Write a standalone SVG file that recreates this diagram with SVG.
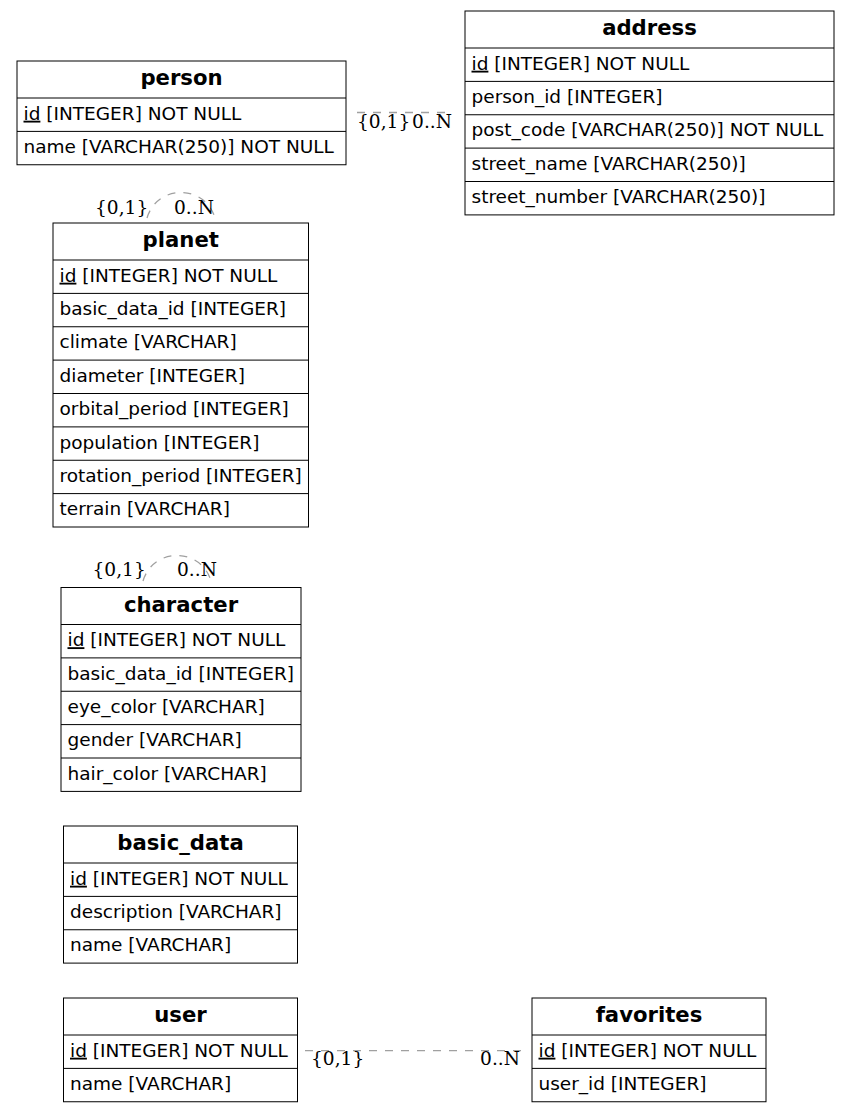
<svg xmlns="http://www.w3.org/2000/svg" width="849" height="1113" viewBox="0 0 849 1113">
<style>
.box{fill:#fff;stroke:#000;stroke-width:1}
.div{stroke:#000;stroke-width:1}
.hd{font-family:"DejaVu Sans",sans-serif;font-weight:bold;font-size:21.2px;text-anchor:middle;fill:#000}
.row{font-family:"DejaVu Sans",sans-serif;font-size:18.5px;fill:#000}
.u{text-decoration:underline}
.edge{fill:none;stroke:#a0a0a0;stroke-width:1.3;stroke-dasharray:8,8}
.lbl{font-family:"DejaVu Serif",serif;font-size:18.6px;fill:#000}
</style>
<rect width="849" height="1113" fill="#fff"/>
<g id="edges">
<line class="edge" x1="357" y1="112.5" x2="452" y2="112.5"/>
<text class="lbl" x="357" y="128">{0,1}</text>
<text class="lbl" x="452" y="128" text-anchor="end">0..N</text>
<path class="edge" d="M147,218 C157,184 205,184 215,218"/>
<text class="lbl" x="95" y="214">{0,1}</text>
<text class="lbl" x="174" y="214">0..N</text>
<path class="edge" d="M143,581 C153,547 201,547 211,581"/>
<text class="lbl" x="92.5" y="576">{0,1}</text>
<text class="lbl" x="177" y="576">0..N</text>
<line class="edge" x1="305" y1="1050.7" x2="521" y2="1050.7"/>
<text class="lbl" x="311" y="1065">{0,1}</text>
<text class="lbl" x="520" y="1065" text-anchor="end">0..N</text>
</g>
<g id="person">
<rect class="box" x="17" y="61" width="329" height="103.75"/>
<line class="div" x1="17" y1="98" x2="346" y2="98"/>
<line class="div" x1="17" y1="131.4" x2="346" y2="131.4"/>
<text class="hd" x="181.5" y="85">person</text>
<text class="row" x="23.5" y="119.7"><tspan class="u">id</tspan> [INTEGER] NOT NULL</text>
<text class="row" x="23.5" y="153.1">name [VARCHAR(250)] NOT NULL</text>
</g>
<g id="address">
<rect class="box" x="465" y="11" width="369" height="203.9"/>
<line class="div" x1="465" y1="48" x2="834" y2="48"/>
<line class="div" x1="465" y1="81.4" x2="834" y2="81.4"/>
<line class="div" x1="465" y1="114.75" x2="834" y2="114.75"/>
<line class="div" x1="465" y1="148.1" x2="834" y2="148.1"/>
<line class="div" x1="465" y1="181.5" x2="834" y2="181.5"/>
<text class="hd" x="649.5" y="35">address</text>
<text class="row" x="471.5" y="69.7"><tspan class="u">id</tspan> [INTEGER] NOT NULL</text>
<text class="row" x="471.5" y="103.1">person_id [INTEGER]</text>
<text class="row" x="471.5" y="136.45">post_code [VARCHAR(250)] NOT NULL</text>
<text class="row" x="471.5" y="169.8">street_name [VARCHAR(250)]</text>
<text class="row" x="471.5" y="203.2">street_number [VARCHAR(250)]</text>
</g>
<g id="planet">
<rect class="box" x="53" y="223" width="255.5" height="304"/>
<line class="div" x1="53" y1="260" x2="308.5" y2="260"/>
<line class="div" x1="53" y1="293.4" x2="308.5" y2="293.4"/>
<line class="div" x1="53" y1="326.75" x2="308.5" y2="326.75"/>
<line class="div" x1="53" y1="360.1" x2="308.5" y2="360.1"/>
<line class="div" x1="53" y1="393.5" x2="308.5" y2="393.5"/>
<line class="div" x1="53" y1="426.9" x2="308.5" y2="426.9"/>
<line class="div" x1="53" y1="460.25" x2="308.5" y2="460.25"/>
<line class="div" x1="53" y1="493.6" x2="308.5" y2="493.6"/>
<text class="hd" x="180.75" y="247">planet</text>
<text class="row" x="59.5" y="281.7"><tspan class="u">id</tspan> [INTEGER] NOT NULL</text>
<text class="row" x="59.5" y="315.1">basic_data_id [INTEGER]</text>
<text class="row" x="59.5" y="348.45">climate [VARCHAR]</text>
<text class="row" x="59.5" y="381.8">diameter [INTEGER]</text>
<text class="row" x="59.5" y="415.2">orbital_period [INTEGER]</text>
<text class="row" x="59.5" y="448.6">population [INTEGER]</text>
<text class="row" x="59.5" y="481.95">rotation_period [INTEGER]</text>
<text class="row" x="59.5" y="515.3">terrain [VARCHAR]</text>
</g>
<g id="character">
<rect class="box" x="61" y="587.5" width="240" height="203.9"/>
<line class="div" x1="61" y1="624.5" x2="301" y2="624.5"/>
<line class="div" x1="61" y1="657.9" x2="301" y2="657.9"/>
<line class="div" x1="61" y1="691.25" x2="301" y2="691.25"/>
<line class="div" x1="61" y1="724.6" x2="301" y2="724.6"/>
<line class="div" x1="61" y1="758" x2="301" y2="758"/>
<text class="hd" x="181" y="611.5">character</text>
<text class="row" x="67.5" y="646.2"><tspan class="u">id</tspan> [INTEGER] NOT NULL</text>
<text class="row" x="67.5" y="679.6">basic_data_id [INTEGER]</text>
<text class="row" x="67.5" y="712.95">eye_color [VARCHAR]</text>
<text class="row" x="67.5" y="746.3">gender [VARCHAR]</text>
<text class="row" x="67.5" y="779.7">hair_color [VARCHAR]</text>
</g>
<g id="basic_data">
<rect class="box" x="63.5" y="826" width="234" height="137.1"/>
<line class="div" x1="63.5" y1="863" x2="297.5" y2="863"/>
<line class="div" x1="63.5" y1="896.4" x2="297.5" y2="896.4"/>
<line class="div" x1="63.5" y1="929.75" x2="297.5" y2="929.75"/>
<text class="hd" x="180.5" y="850">basic_data</text>
<text class="row" x="70" y="884.7"><tspan class="u">id</tspan> [INTEGER] NOT NULL</text>
<text class="row" x="70" y="918.1">description [VARCHAR]</text>
<text class="row" x="70" y="951.45">name [VARCHAR]</text>
</g>
<g id="user">
<rect class="box" x="63.5" y="998" width="234" height="103.75"/>
<line class="div" x1="63.5" y1="1035" x2="297.5" y2="1035"/>
<line class="div" x1="63.5" y1="1068.4" x2="297.5" y2="1068.4"/>
<text class="hd" x="180.5" y="1022">user</text>
<text class="row" x="70" y="1056.7"><tspan class="u">id</tspan> [INTEGER] NOT NULL</text>
<text class="row" x="70" y="1090.1">name [VARCHAR]</text>
</g>
<g id="favorites">
<rect class="box" x="532" y="998" width="234" height="103.75"/>
<line class="div" x1="532" y1="1035" x2="766" y2="1035"/>
<line class="div" x1="532" y1="1068.4" x2="766" y2="1068.4"/>
<text class="hd" x="649" y="1022">favorites</text>
<text class="row" x="538.5" y="1056.7"><tspan class="u">id</tspan> [INTEGER] NOT NULL</text>
<text class="row" x="538.5" y="1090.1">user_id [INTEGER]</text>
</g>
</svg>
